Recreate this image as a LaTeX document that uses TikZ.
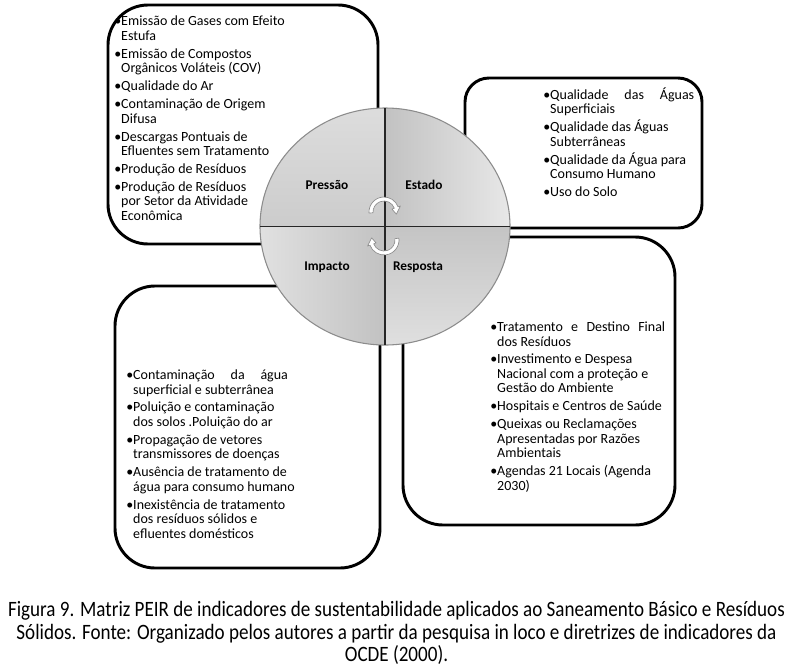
\documentclass[tikz,border=0pt]{standalone}
\usepackage{fontspec}
\setmainfont{Carlito}
\newfontfamily\capfont[FakeStretch=0.87]{Carlito}
\usetikzlibrary{calc}
\newcommand\bul{\textbullet}
\newcommand\ind{\hphantom{\textbullet}}
\tikzset{
  panel/.style={draw=black, line width=2.2pt, rounded corners=30, fill=white},
  listtext/.style={anchor=north west, inner sep=0pt, align=left,
    font=\fontsize{10.5pt}{10.9pt}\selectfont},
  quadlabel/.style={inner sep=0pt, font=\bfseries\fontsize{10pt}{12pt}\selectfont},
  divider/.style={draw=black!85, line width=1.3pt},
  cyclearrow/.style={fill=white, draw=black!45, line width=0.5pt, line join=round},
}
\begin{document}
\begin{tikzpicture}[x=0.75pt,y=-0.75pt]
\useasboundingbox (0,0) rectangle (793,668);
\fill[white] (0,0) rectangle (793,668);

% panels
\draw[panel] (108,5) rectangle (378,244);
\draw[panel, rounded corners=18] (465,78) rectangle (702,228);
\draw[panel] (115,286) rectangle (380,568);
\draw[panel] (403,237) rectangle (675,525);

% central ellipse
\coordinate (C) at (385,226.5);
\begin{scope}
  \clip (C) ellipse [x radius=125, y radius=118.5];
  \shade[top color=black!13, bottom color=black!20] (250,100) rectangle (385,226.5);
  \shade[left color=black!24, right color=black!8] (385,100) rectangle (520,226.5);
  \shade[left color=black!11, right color=black!24] (250,226.5) rectangle (385,350);
  \shade[top color=black!23, bottom color=black!12] (385,226.5) rectangle (520,350);
\end{scope}
\draw[black!45, line width=0.8pt] (C) ellipse [x radius=125, y radius=118.5];
\draw[divider] (260,226.5) -- (510,226.5);
\draw[divider] (385,108) -- (385,345);

% cycle arrows
\coordinate (A1) at (384,212);
\coordinate (A2) at (384,240);
\draw[cyclearrow] ($(A1)+(176:15)$) arc[start angle=176, end angle=340, radius=15]
   -- ($(A1)+(340:17.5)$) -- ($(A1)+(10:12.5)$) -- ($(A1)+(340:8.5)$)
   -- ($(A1)+(340:11)$) arc[start angle=340, end angle=176, radius=11] -- cycle;
\draw[cyclearrow] ($(A2)+(-7:15)$) arc[start angle=-7, end angle=160, radius=15]
   -- ($(A2)+(160:17.5)$) -- ($(A2)+(190:12.5)$) -- ($(A2)+(160:8.5)$)
   -- ($(A2)+(160:11)$) arc[start angle=160, end angle=-7, radius=11] -- cycle;

% quadrant labels
\node[quadlabel] (pressao) at (327,185) {Pressão};
\node[quadlabel] (estado) at (424,185) {Estado};
\node[quadlabel] (impacto) at (327,267) {Impacto};
\node[quadlabel] (resposta) at (418,267) {Resposta};

% lists
\node[listtext] (pl) at (114,16) {%
\bul Emissão de Gases com Efeito\\
\ind Estufa\\[2.5pt]
\bul Emissão de Compostos\\
\ind Orgânicos Voláteis (COV)\\[2.5pt]
\bul Qualidade do Ar\\[2.5pt]
\bul Contaminação de Origem\\
\ind Difusa\\[2.5pt]
\bul Descargas Pontuais de\\
\ind Efluentes sem Tratamento\\[2.5pt]
\bul Produção de Resíduos\\[2.5pt]
\bul Produção de Resíduos\\
\ind por Setor da Atividade\\
\ind Econômica};

\node[listtext] (el) at (543,87.5) {%
\bul\makebox[108pt][s]{Qualidade das Águas}\\
\ind Superficiais\\[2.5pt]
\bul Qualidade das Águas\\
\ind Subterrâneas\\[2.5pt]
\bul Qualidade da Água para\\
\ind Consumo Humano\\[2.5pt]
\bul Uso do Solo};

\node[listtext] (il) at (126,369.5) {%
\bul\makebox[116pt][s]{Contaminação da água}\\
\ind superficial e subterrânea\\[2.5pt]
\bul Poluição e contaminação\\
\ind dos solos .Poluição do ar\\[2.5pt]
\bul Propagação de vetores\\
\ind transmissores de doenças\\[2.5pt]
\bul Ausência de tratamento de\\
\ind água para consumo humano\\[2.5pt]
\bul Inexistência de tratamento\\
\ind dos resíduos sólidos e\\
\ind efluentes domésticos};

\node[listtext] (rl) at (490,321.5) {%
\bul\makebox[126pt][s]{Tratamento e Destino Final}\\
\ind dos Resíduos\\[2.5pt]
\bul Investimento e Despesa\\
\ind Nacional com a proteção e\\
\ind Gestão do Ambiente\\[2.5pt]
\bul Hospitais e Centros de Saúde\\[2.5pt]
\bul Queixas ou Reclamações\\
\ind Apresentadas por Razões\\
\ind Ambientais\\[2.5pt]
\bul Agendas 21 Locais (Agenda\\
\ind 2030)};

% caption
\node[inner sep=0pt, align=center, font=\capfont\fontsize{16.45pt}{16.9pt}\selectfont] (cap) at (396.5,633) {%
Figura 9. Matriz PEIR de indicadores de sustentabilidade aplicados ao Saneamento Básico e Resíduos\\
Sólidos. Fonte: Organizado pelos autores a partir da pesquisa in loco e diretrizes de indicadores da\\
OCDE (2000).};
\end{tikzpicture}
\end{document}
